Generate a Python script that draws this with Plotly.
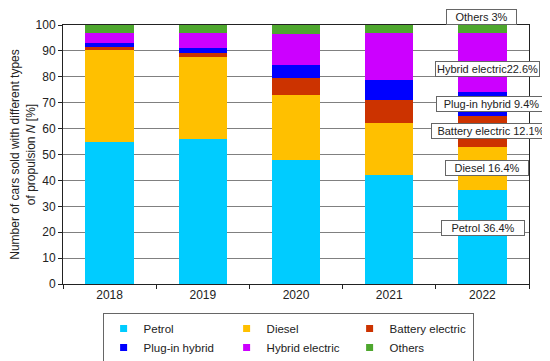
import plotly.graph_objects as go

years = ["2018", "2019", "2020", "2021", "2022"]
series_names = ["Petrol", "Diesel", "Battery electric", "Plug-in hybrid", "Hybrid electric", "Others"]
petrol = [55.0, 56.0, 48.0, 41.9, 36.4]
diesel = [35.2, 31.8, 24.9, 20.1, 16.4]
battery = [1.4, 1.5, 6.6, 9.1, 12.1]
plugin = [1.4, 1.8, 4.9, 7.8, 9.4]
hybrid = [4.0, 6.0, 12.2, 18.2, 22.6]
others = [3.0, 2.9, 3.4, 2.9, 3.0]
colors = ["#00CCFF", "#FFC000", "#CC3300", "#0000FF", "#CC00FF", "#4EA72E"]

label_texts = ["Petrol 36.4%", "Diesel 16.4%", "Battery electric 12.1%",
               "Plug-in hybrid 9.4%", "Hybrid electric22.6%", "Others 3%"]
label_y = [21.5, 44.8, 58.9, 69.4, 83.0, 103.0]
label_x = [0.901, 0.909, 0.918, 0.919, 0.912, 0.899]
label_w = [80, 80, 116, 107, 101, 67]

values = [petrol, diesel, battery, plugin, hybrid, others]
FONT = "Liberation Sans, Arial, sans-serif"

fig = go.Figure()
for name, vals, col in zip(series_names, values, colors):
    fig.add_trace(go.Bar(x=years, y=vals, name=name, marker_color=col,
                         marker_line_width=0, showlegend=False))
for name, col in zip(series_names, colors):
    fig.add_trace(go.Scatter(x=[None], y=[None], mode="markers", name=name,
                             marker=dict(symbol="square", size=7, color=col)))

for t, y, x, w in zip(label_texts, label_y, label_x, label_w):
    fig.add_annotation(text=t, xref="paper", yref="paper", x=x, y=y / 100.0,
                       xanchor="center", yanchor="middle", showarrow=False,
                       font=dict(size=11, color="#222222", family=FONT),
                       bgcolor="white", bordercolor="#666666", borderwidth=1,
                       borderpad=1, width=w)

# page body has an 8px margin, so the figure is sized to fit the 550x361 window
fig.update_layout(
    barmode="stack", bargap=0.48,
    width=542, height=353,
    margin=dict(l=55, r=21, t=17, b=77, autoexpand=False),
    plot_bgcolor="white", paper_bgcolor="white",
    font=dict(family=FONT, size=12, color="#222222"),
    legend=dict(orientation="h", x=0.085, y=-0.112, xanchor="left", yanchor="top",
                bordercolor="#666666", borderwidth=1, entrywidth=78,
                traceorder="normal",
                font=dict(size=11.5, family=FONT, color="#222222"),
                itemwidth=30, tracegroupgap=0),
    xaxis=dict(type="category", showline=True, linecolor="#222222", linewidth=1,
               mirror=True, ticks="outside", tickson="boundaries", ticklen=4,
               tickcolor="#222222", tickfont=dict(size=12)),
    yaxis=dict(range=[0, 100], dtick=10, showline=True, linecolor="#222222",
               linewidth=1, mirror=True, ticks="outside", ticklen=4,
               tickcolor="#222222", showgrid=True, gridcolor="#808080", gridwidth=1,
               tickfont=dict(size=12),
               title=dict(text="Number of cars sold with different types<br>of propulsion <i>N</i> [%]",
                          font=dict(size=12), standoff=3)),
)

fig.write_html("out.html")
